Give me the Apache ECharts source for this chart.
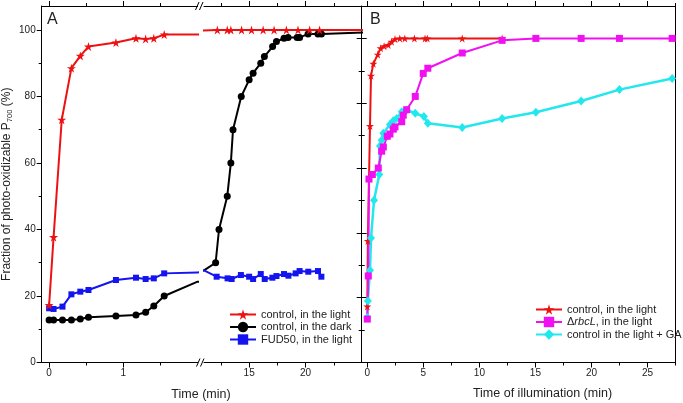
<!DOCTYPE html>
<html><head><meta charset="utf-8">
<script src="https://cdn.jsdelivr.net/npm/echarts@6/dist/echarts.min.js"></script>
<style>html,body{margin:0;padding:0;background:#fff}#c{width:683px;height:403px}</style>
</head><body><div id="c"></div>
<script>
// ---------- data (time in min, fraction %) ----------
const aLight = [[0,17.3],[0.06,37.7],[0.17,73],[0.30,88.5],[0.42,92.2],[0.53,95],[0.90,96.2],[1.17,97.5],[1.30,97.3],[1.41,97.5],[1.55,98.6],
  [12.18,100],[13.06,100],[13.38,100],[14.33,100],[15.21,100],[16.24,100],[17.21,100],[18.30,100],[19.33,100],[20.36,100],[21.24,100],[26,100]];
const aDark = [[0,12.8],[0.06,12.8],[0.18,12.8],[0.30,12.8],[0.42,13.1],[0.53,13.6],[0.90,14],[1.17,14.3],[1.30,15.1],[1.41,17],[1.55,20],
  [12.03,30],[12.33,40],[13.06,50],[13.38,60],[13.57,70],[14.3,80],[15.0,85],[15.35,87],[16.03,90],[16.35,92],[17.08,95],[17.42,96.5],
  [18.09,97.5],[18.45,97.7],[19.25,97.7],[19.47,97.7],[20.22,98.8],[21.1,98.8],[21.4,98.8],[26,99.3]];
const aDarkBreak = [[2.0,24.3],[11.0,27.7]];
const aFud = [[0,16.3],[0.06,16.1],[0.18,16.8],[0.30,20.5],[0.42,21.3],[0.53,21.8],[0.90,24.8],[1.17,25.5],[1.30,25.1],[1.41,25.3],[1.55,26.8],
  [12.12,25.8],[13.09,25.3],[13.45,25.1],[14.27,26.3],[15.0,25.8],[15.35,25.1],[16.03,26.6],[16.38,25.1],[17.06,25.5],[17.42,26],
  [18.09,26.6],[18.48,26.1],[19.12,26.8],[19.47,27.5],[20.24,27.3],[21.1,27.5],[21.4,25.8]];
const aFudBreak = [[2.0,27.1],[11.0,27.7]];

const bLight = [[0,17.3],[0.05,37.5],[0.24,73],[0.33,88.5],[0.54,92.2],[0.93,95],[1.19,97],[1.5,97.6],[1.87,98],[2.17,99],[2.47,99.8],
  [2.9,100],[3.35,100],[4.2,100],[5.15,100],[5.35,100],[8.47,100],[12.03,100]];
const bRbcL = [[0,13.4],[0.09,26.7],[0.15,56.6],[0.45,58],[0.98,60],[1.28,65.2],[1.43,66.5],[1.78,69.8],[2.02,70.5],[2.32,72],[2.47,72.7],
  [3.07,74.3],[3.21,76.3],[3.51,78],[4.28,82.1],[4.99,89.2],[5.4,90.8],[8.47,95.5],[12.03,99.4],[15.04,100],[19.08,100],[22.5,100],[27.2,100]];
const bGA = [[0,13.9],[0.05,19],[0.24,28.5],[0.33,38.4],[0.6,50.1],[1.07,58],[1.13,66.8],[1.28,68.6],[1.43,70.7],[2.02,73.4],[2.32,74.6],
  [2.62,75.3],[3.07,77.4],[3.51,77.9],[4.28,76.9],[5.05,75.9],[5.4,73.8],[8.47,72.5],[12.03,75.3],[15.04,77.2],[19.08,80.7],[22.5,84.2],[27.2,87.6]];

// ---------- ticks ----------
const aYLabels = [0,20,40,60,80,100];
const aYMinor = [10,30,50,70,90];
const a1XLabels = [0,1];
const a1XMinor = [0.5,1.5];
const a2XLabels = [15,20];
const a2XMinor = [12.5,17.5,22.5];
const bXLabels = [0,5,10,15,20,25];
const bXMinor = [2.5,7.5,12.5,17.5,22.5,27.5];
const bYMajor = [0,20,40,60,80,100];
const bYMinor = [10,30,50,70,90];

const names = ['control, in the light','control, in the dark','FUD50, in the light'];
const namesB = ['B:control, in the light','B:rbcL','B:control in the light + GA'];

// ---------- build ----------
const TXT = '#222';
const FONT = 'Liberation Sans, Arial';
const star = 'path://M50,0 L61,35 L98,35 L68,57 L79,91 L50,70 L21,91 L32,57 L2,35 L39,35 Z';
function withBreak(arr, br){
  const out = arr.map(p=>p.slice());
  br.forEach(p=>out.push({value:p.slice(), symbol:'none'}));
  const t = d => Array.isArray(d) ? d[0] : d.value[0];
  return out.sort((a,b)=>t(a)-t(b));
}
function ax(gi,min,max,pos,vals,len,line,labels,inside){
  return {gridIndex:gi,type:'value',min:min,max:max,position:pos,
    axisLine:{show:line,onZero:false,lineStyle:{color:'#000',width:1}},
    axisTick:{show:true,customValues:vals,length:len,inside:!!inside,lineStyle:{color:'#000',width:1}},
    axisLabel:labels?{show:true,customValues:labels,fontSize:10,color:TXT,margin:6,fontFamily:FONT}:{show:false},
    splitLine:{show:false}};
}
const grids = [
  {left:41.7, top:6, width:155.9, height:356.5},
  {left:204, top:6, width:158, height:356.5},
  {left:361.7, top:6, width:313.8, height:356.5}
];
const AYMAX = 107.2, BYMAX = 110;
const xAxis = [
  ax(0,-0.1,2.0,'bottom',a1XLabels,5,true,a1XLabels), //0
  ax(0,-0.1,2.0,'bottom',a1XMinor,3,false),            //1
  ax(0,-0.1,2.0,'top',a1XLabels,5,true),               //2
  ax(0,-0.1,2.0,'top',a1XMinor,3,false),               //3
  ax(1,11,25,'bottom',a2XLabels,5,true,a2XLabels),     //4
  ax(1,11,25,'bottom',a2XMinor,3,false),               //5
  ax(1,11,25,'top',a2XLabels,5,true),                  //6
  ax(1,11,25,'top',a2XMinor,3,false),                  //7
  ax(2,-0.5,27.5,'bottom',bXLabels,5,true,bXLabels),   //8
  ax(2,-0.5,27.5,'bottom',bXMinor,3,false),            //9
  ax(2,-0.5,27.5,'top',bXLabels,5,true),               //10
  ax(2,-0.5,27.5,'top',bXMinor,3,false)                //11
];
const yA = ax(0,0,AYMAX,'left',aYLabels,5,true,aYLabels);
yA.name = '{n|Fraction of photo-oxidizable P}{s|700}{n| (%)}';
yA.nameLocation = 'middle'; yA.nameRotate = 90; yA.nameGap = 28;
yA.nameTextStyle = {color:TXT, fontFamily:FONT, rich:{
  n:{fontSize:12,color:TXT,fontFamily:FONT,lineHeight:15},
  s:{fontSize:7.5,color:TXT,fontFamily:FONT,verticalAlign:'bottom',lineHeight:15,padding:[6,0,0,0]}}};
const yAxis = [
  yA,                                               //0
  ax(0,0,AYMAX,'left',aYMinor,3,false),             //1
  {gridIndex:1,type:'value',min:0,max:AYMAX,show:false}, //2
  ax(2,0,BYMAX,'left',bYMajor,5,true),              //3
  ax(2,0,BYMAX,'left',bYMinor,3,false),             //4
  ax(2,0,BYMAX,'left',bYMajor,5,false,null,true),   //5
  ax(2,0,BYMAX,'left',bYMinor,3,false,null,true),   //6
  {gridIndex:2,type:'value',min:0,max:BYMAX,position:'right',axisLine:{show:true,onZero:false,lineStyle:{color:'#000'}},axisTick:{show:false},axisLabel:{show:false},splitLine:{show:false}} //7
];

function ser(name,data,xi,yi,color,symbol,size,lw){
  return {type:'line',name:name,data:data,xAxisIndex:xi,yAxisIndex:yi,symbol:symbol,symbolSize:size,
    showAllSymbol:true,clip:true,color:color,itemStyle:{color:color},lineStyle:{color:color,width:lw||2},
    emphasis:{disabled:true},animation:false};
}
const RED='#ee1111', BLK='#000000', BLU='#1414f0', MAG='#f010f0', CYA='#22e8ee';
const darkFull = withBreak(aDark, aDarkBreak);
const fudFull = withBreak(aFud, aFudBreak);
const series = [
  ser(names[1],darkFull,0,0,BLK,'circle',7),
  ser(names[2],fudFull,0,0,BLU,'rect',6),
  ser(names[0],aLight,0,0,RED,star,9),
  ser(names[1],darkFull,4,2,BLK,'circle',7),
  ser(names[2],fudFull,4,2,BLU,'rect',6),
  ser(names[0],aLight,4,2,RED,star,9),
  ser(namesB[0],bLight,8,3,RED,star,8),
  ser(namesB[2],bGA,8,3,CYA,'diamond',[8,9],2.5),
  ser(namesB[1],bRbcL,8,3,MAG,'rect',7)
];
const legendText = {fontSize:11,color:TXT,fontFamily:FONT,
  rich:{n:{fontSize:11,color:TXT,fontFamily:FONT},i:{fontSize:11,color:TXT,fontStyle:'italic',fontFamily:FONT}}};
const option = {
  backgroundColor:'#fff',
  animation:false,
  grid:grids.map(g=>Object.assign({containLabel:false,outerBoundsMode:'none'},g)),
  xAxis:xAxis, yAxis:yAxis, series:series,
  legend:[
    {data:names,orient:'vertical',left:229,top:309,padding:0,itemWidth:26,itemHeight:13,itemGap:1.5,
     textStyle:legendText,selectedMode:false},
    {data:namesB,orient:'vertical',left:535,top:304,padding:0,itemWidth:26,itemHeight:13,itemGap:1.5,
     textStyle:legendText,selectedMode:false,
     formatter:function(n){ if(n==='B:rbcL') return '{n|\u0394}{i|rbcL}{n|, in the light}'; return '{n|'+n.slice(2)+'}'; }}
  ],
  graphic:[
    {type:'text',left:47,top:12,style:{text:'A',fontSize:16,fill:TXT,fontFamily:FONT}},
    {type:'text',left:370,top:12,style:{text:'B',fontSize:16,fill:TXT,fontFamily:FONT}},
    {type:'text',x:201,y:395,style:{text:'Time (min)',fontSize:12.5,fill:TXT,align:'center',verticalAlign:'middle',fontFamily:FONT}},
    {type:'text',x:542.5,y:394,style:{text:'Time of illumination (min)',fontSize:12.5,fill:TXT,align:'center',verticalAlign:'middle',fontFamily:FONT}},
    {type:'line',shape:{x1:195.5,y1:10,x2:199,y2:2},style:{stroke:'#000',lineWidth:1}},
    {type:'line',shape:{x1:199.5,y1:10,x2:203,y2:2},style:{stroke:'#000',lineWidth:1}},
    {type:'line',shape:{x1:196.5,y1:366.5,x2:200,y2:358.5},style:{stroke:'#000',lineWidth:1}},
    {type:'line',shape:{x1:200.5,y1:366.5,x2:204,y2:358.5},style:{stroke:'#000',lineWidth:1}}
  ]
};
const chart = echarts.init(document.getElementById('c'),null,{renderer:'canvas'});
chart.setOption(option);
</script></body></html>
